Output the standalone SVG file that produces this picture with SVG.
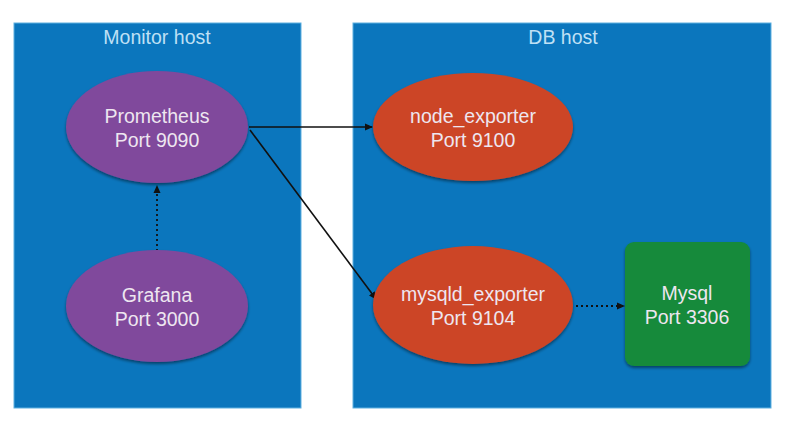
<svg xmlns="http://www.w3.org/2000/svg" width="788" height="432" viewBox="0 0 788 432">
<style>
.host{fill:#0b76bd;stroke:#5fb0e0;stroke-width:1}
.title{font-family:"Liberation Sans",Arial,sans-serif;font-size:19.5px;fill:#bfe0f5;text-anchor:middle}
.lbl{font-family:"Liberation Sans",Arial,sans-serif;font-size:19.5px;fill:#eee6f0;text-anchor:middle}
.purple{fill:#80499c}
.orange{fill:#cc4526}
.green{fill:#148a3b}
.solid{stroke:#111;stroke-width:1.6;fill:none}
.dot{stroke:#111;stroke-width:1.8;fill:none;stroke-dasharray:2 3}
</style>
<defs>
<marker id="ah" markerWidth="8" markerHeight="8" refX="7" refY="4" orient="auto" markerUnits="userSpaceOnUse">
<path d="M0,0.5 L8,4 L0,7.5 z" fill="#111"/>
</marker>
<filter id="sh" x="-10%" y="-10%" width="120%" height="130%">
<feDropShadow dx="0" dy="2" stdDeviation="1.5" flood-color="#000" flood-opacity="0.45"/>
</filter>
</defs>
<rect width="788" height="432" fill="#ffffff"/>
<g id="monitor-host">
<rect class="host" x="14" y="23" width="287" height="385"/>
<text class="title" x="157" y="44">Monitor host</text>
</g>
<g id="db-host">
<rect class="host" x="353" y="23" width="418" height="385"/>
<text class="title" x="563" y="44">DB host</text>
</g>
<g id="connectors">
<line class="solid" x1="249" y1="127" x2="372" y2="127" marker-end="url(#ah)"/>
<line class="solid" x1="250" y1="130" x2="376" y2="299" marker-end="url(#ah)"/>
<line class="dot" x1="157" y1="251" x2="157" y2="186" marker-end="url(#ah)"/>
<line class="dot" x1="576" y1="306" x2="624" y2="306" marker-end="url(#ah)"/>
</g>
<g id="prometheus">
<ellipse class="purple" cx="157" cy="127" rx="91" ry="56" filter="url(#sh)"/>
<text class="lbl" x="157" y="123">Prometheus</text>
<text class="lbl" x="157" y="147">Port 9090</text>
</g>
<g id="grafana">
<ellipse class="purple" cx="157" cy="306" rx="91" ry="56" filter="url(#sh)"/>
<text class="lbl" x="157" y="302">Grafana</text>
<text class="lbl" x="157" y="326">Port 3000</text>
</g>
<g id="node_exporter">
<ellipse class="orange" cx="473" cy="127" rx="100" ry="54" filter="url(#sh)"/>
<text class="lbl" x="473" y="123">node_exporter</text>
<text class="lbl" x="473" y="147">Port 9100</text>
</g>
<g id="mysqld_exporter">
<ellipse class="orange" cx="473" cy="305" rx="100" ry="59" filter="url(#sh)"/>
<text class="lbl" x="473" y="301">mysqld_exporter</text>
<text class="lbl" x="473" y="325">Port 9104</text>
</g>
<g id="mysql">
<rect class="green" x="625" y="242" width="125" height="124" rx="9" filter="url(#sh)"/>
<text class="lbl" x="687" y="300">Mysql</text>
<text class="lbl" x="687" y="324">Port 3306</text>
</g>
</svg>
